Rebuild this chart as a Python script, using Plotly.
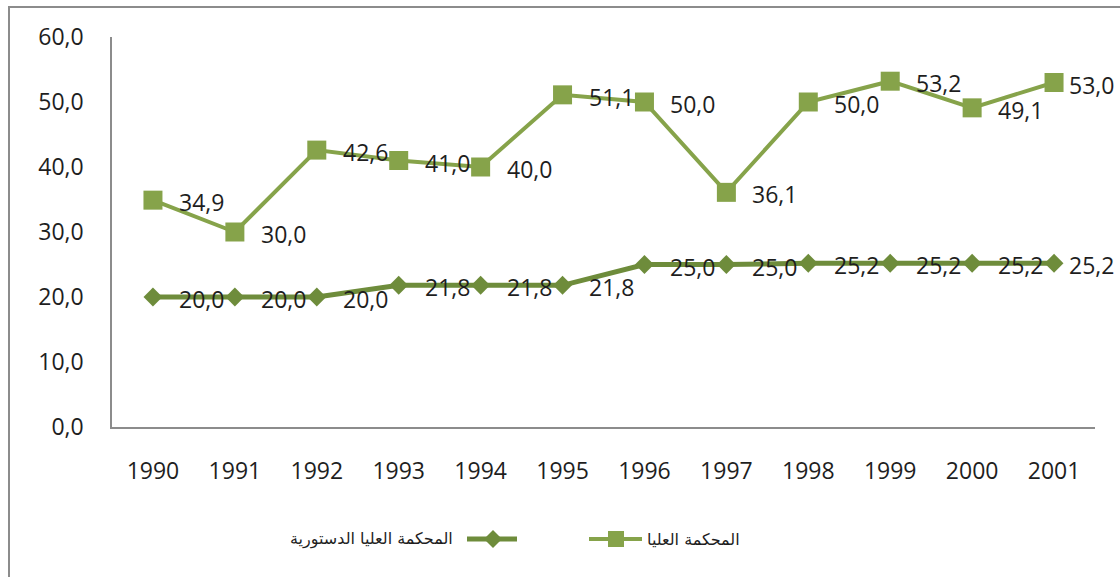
import plotly.graph_objects as go

years = ["1990", "1991", "1992", "1993", "1994", "1995",
         "1996", "1997", "1998", "1999", "2000", "2001"]
supreme = [34.9, 30.0, 42.6, 41.0, 40.0, 51.1, 50.0, 36.1, 50.0, 53.2, 49.1, 53.0]
constitutional = [20.0, 20.0, 20.0, 21.8, 21.8, 21.8, 25.0, 25.0, 25.2, 25.2, 25.2, 25.2]
name_supreme = "المحكمة العليا"
name_const = "المحكمة العليا الدستورية"
y_ticks = [0, 10, 20, 30, 40, 50, 60]

C_SUP = "#86A34A"
C_CON = "#6E8C3B"
TXT = "#1e1e1e"
NUMFONT = "Open Sans"
W, H = 1120, 577
ML, MR, MT, MB = 112, 25, 37, 150


def fmt(v):
    return f"{v:.1f}".replace(".", ",")


def pp(px, py):
    """pixel -> paper coordinates (for decorations only)"""
    return (px - ML) / (W - ML - MR), (H - MB - py) / (H - MT - MB)


fig = go.Figure()
fig.add_trace(go.Scatter(
    x=years, y=constitutional, mode="lines+markers", name=name_const,
    line=dict(color=C_CON, width=5),
    marker=dict(symbol="diamond", size=14.5, color=C_CON),
    cliponaxis=False, showlegend=False, hoverinfo="skip"))
fig.add_trace(go.Scatter(
    x=years, y=supreme, mode="lines+markers", name=name_supreme,
    line=dict(color=C_SUP, width=4),
    marker=dict(symbol="square", size=19, color=C_SUP),
    cliponaxis=False, showlegend=False, hoverinfo="skip"))

annotations = []
for series in (supreme, constitutional):
    for i, v in enumerate(series):
        annotations.append(dict(
            x=i, y=v, xref="x", yref="y", text=fmt(v), showarrow=False,
            xanchor="left", yanchor="middle",
            xshift=25 if i < len(years) - 1 else 14, yshift=-2,
            borderpad=0, font=dict(family=NUMFONT, size=23, color=TXT)))

# custom right-to-left legend
shapes = []
ly = 539
for (x0, x1, cx, col, lw, sym) in [
        (467, 517, 493, C_CON, 5, "diamond"),
        (589, 642, 616, C_SUP, 4, "square")]:
    a = pp(x0, ly)
    b = pp(x1, ly)
    shapes.append(dict(type="line", xref="paper", yref="paper",
                       x0=a[0], y0=a[1], x1=b[0], y1=b[1],
                       line=dict(color=col, width=lw)))
    if sym == "square":
        p0 = pp(cx - 8, ly - 8)
        p1 = pp(cx + 8, ly + 8)
        shapes.append(dict(type="rect", xref="paper", yref="paper",
                           x0=p0[0], y0=p0[1], x1=p1[0], y1=p1[1],
                           fillcolor=col, line=dict(width=0)))
    else:
        pts = [pp(cx, ly - 9), pp(cx + 9, ly), pp(cx, ly + 9), pp(cx - 9, ly)]
        path = "M " + " L ".join(f"{x},{y}" for x, y in pts) + " Z"
        shapes.append(dict(type="path", xref="paper", yref="paper", path=path,
                           fillcolor=col, line=dict(width=0)))

for text, xpos, anchor in [(name_const, 455, "right"), (name_supreme, 645, "left")]:
    x, y = pp(xpos, ly)
    annotations.append(dict(x=x, y=y, xref="paper", yref="paper", text=text,
                            showarrow=False, xanchor=anchor, yanchor="middle",
                            font=dict(family="DejaVu Sans", size=16, color=TXT)))

# outer chart border
b0 = pp(9, 7)
b1 = pp(W + 20, H + 20)
shapes.append(dict(type="rect", xref="paper", yref="paper",
                   x0=b0[0], y0=b1[1], x1=b1[0], y1=b0[1],
                   line=dict(color="#8C8C8C", width=2), fillcolor="rgba(0,0,0,0)"))

fig.update_layout(
    width=W, height=H,
    margin=dict(l=ML, r=MR, t=MT, b=MB),
    paper_bgcolor="white", plot_bgcolor="white",
    showlegend=False, hovermode=False,
    annotations=annotations, shapes=shapes,
    xaxis=dict(type="category", range=[-0.5, len(years) - 0.5],
               showline=True, linecolor="#8C8C8C", linewidth=1.5,
               showgrid=False, zeroline=False, ticks="",
               ticklabelstandoff=23,
               tickfont=dict(family=NUMFONT, size=23, color=TXT)),
    yaxis=dict(range=[0, 60], tickvals=y_ticks,
               ticktext=[fmt(v) for v in y_ticks],
               showline=True, linecolor="#8C8C8C", linewidth=1.5,
               showgrid=False, zeroline=False, ticks="",
               ticklabelstandoff=22,
               tickfont=dict(family=NUMFONT, size=23, color=TXT)),
)

fig.write_html("out.html",
               config={"displayModeBar": False},
               post_script="document.body.style.margin='0';"
                           "document.body.style.overflow='hidden';")
